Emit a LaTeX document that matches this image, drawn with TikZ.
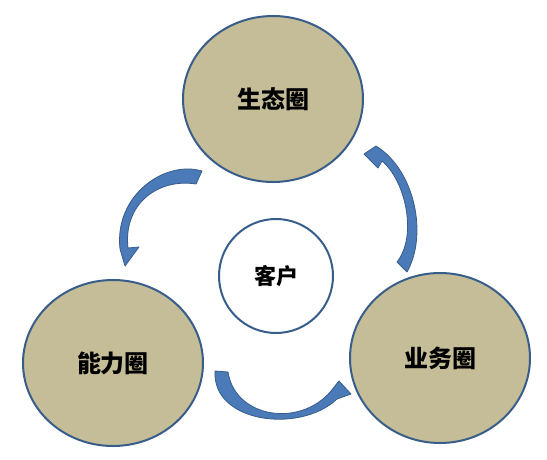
\documentclass[tikz,border=0pt]{standalone}
\usepackage{fontspec}
\newfontfamily\cjk{Noto Sans CJK SC}
\usetikzlibrary{shapes.geometric}
\definecolor{tan}{RGB}{196,189,151}
\definecolor{rim}{RGB}{56,93,138}
\definecolor{arrowblue}{RGB}{74,122,184}
\tikzset{
  circ/.style={ellipse, draw=rim, line width=2pt, fill=tan, minimum width=180pt, minimum height=166pt, font=\cjk\bfseries\fontsize{24}{24}\selectfont},
  curvedarrow/.style={fill=arrowblue, draw=rim, line width=0.8pt, line join=round}
}

\begin{document}
\begin{tikzpicture}[x=1pt,y=-1pt]
\useasboundingbox (0,0) rectangle (547,459);
\node[circ] (eco) at (273,99) {生态圈};
\node[circ] (skill) at (113,363) {能力圈};
\node[circ, minimum height=170pt] (biz) at (440,358) {业务圈};
\node[circle, draw=rim, line width=2pt, fill=white, minimum size=114pt, font=\cjk\bfseries\fontsize{22}{22}\selectfont] (client) at (276,276) {客户};
\draw[curvedarrow] (202,171) .. controls (165,160) and (114,195) .. (120,249) -- (125,266) -- (139,247) -- (128,248) .. controls (123,204) and (158,178) .. (196,184) -- cycle;
\draw[curvedarrow] (407,272) .. controls (428,235) and (415,170) .. (376,146) -- (364,154) -- (378,168) -- (382,161) .. controls (405,180) and (418,235) .. (397,262) -- cycle;
\draw[curvedarrow] (215,371) .. controls (212,423) and (300,434) .. (337,399) -- (351,394) -- (339,381) -- (331,391) .. controls (300,428) and (235,418) .. (228,372) -- cycle;
\end{tikzpicture}
\end{document}
